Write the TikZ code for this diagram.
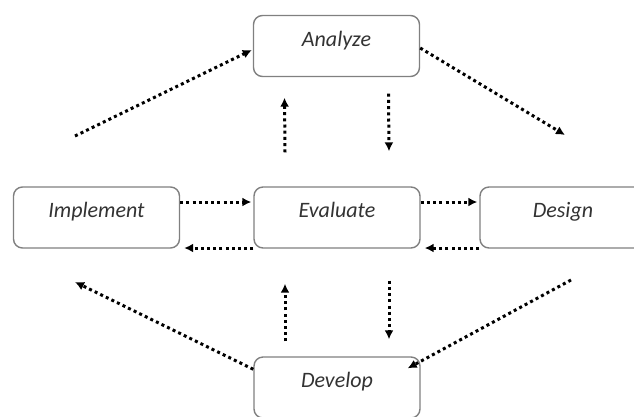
\documentclass[tikz,border=0pt]{standalone}
\usepackage{fontspec}
\setmainfont{Carlito}
\usetikzlibrary{arrows.meta}
\begin{document}
\begin{tikzpicture}[x=1pt,y=-1pt]
\tikzset{
  phase/.style={draw=black!50, line width=1.4pt, rounded corners=9pt, fill=white,
    minimum width=166pt, minimum height=61pt, inner sep=0pt,
    text height=9pt, text depth=9pt,
    font=\fontsize{22}{24}\selectfont\itshape, text=black!80},
  flow/.style={line width=3pt, dash pattern=on 3pt off 3.2pt,
    -{Latex[length=9pt,width=9pt]}},
}
\useasboundingbox (0,0) rectangle (634,416);

%% Phases
\node[phase] (ana)  at (336.5,46)   {Analyze};
\node[phase] (impl) at (96.5,217.5) {Implement};
\node[phase] (eval) at (337,217.5)  {Evaluate};
\node[phase] (des)  at (563,217.5)  {Design};
\node[phase] (dev)  at (337,387.5)  {Develop};

%% free ends
\coordinate (tl) at (75,136);
\coordinate (tr) at (565,135);
\coordinate (bl) at (75,282);
\coordinate (br) at (571,280);

%% Outer cycle
\draw[flow] (tl) -- ([xshift=-1pt,yshift=-4pt]ana.west);
\draw[flow] ([yshift=-2pt]ana.east) -- (tr);
\draw[flow] ([yshift=-13pt]dev.north west) -- (bl);
\draw[flow] (br) -- ([xshift=-13pt,yshift=-12pt]dev.north east);

%% Evaluate links
\draw[flow] ([xshift=-52pt,yshift=34pt]eval.north) -- ([xshift=-52pt,yshift=-20.5pt]ana.south);
\draw[flow] ([xshift=52pt,yshift=-16.5pt]ana.south) -- ([xshift=52pt,yshift=35pt]eval.north);
\draw[flow] ([xshift=-52pt,yshift=15pt]dev.north) -- ([xshift=-52pt,yshift=-35pt]eval.south);
\draw[flow] ([xshift=52pt,yshift=-32pt]eval.south) -- ([xshift=52pt,yshift=17pt]dev.north);
\draw[flow] ([yshift=15.5pt]impl.east) -- ([yshift=15.5pt,xshift=-2pt]eval.west);
\draw[flow] ([yshift=-30.5pt]eval.west) -- ([yshift=-30.5pt,xshift=4pt]impl.east);
\draw[flow] ([yshift=15.5pt]eval.east) -- ([yshift=15.5pt,xshift=-2pt]des.west);
\draw[flow] ([yshift=-30.5pt]des.west) -- ([yshift=-30.5pt,xshift=4pt]eval.east);
\end{tikzpicture}
\end{document}
